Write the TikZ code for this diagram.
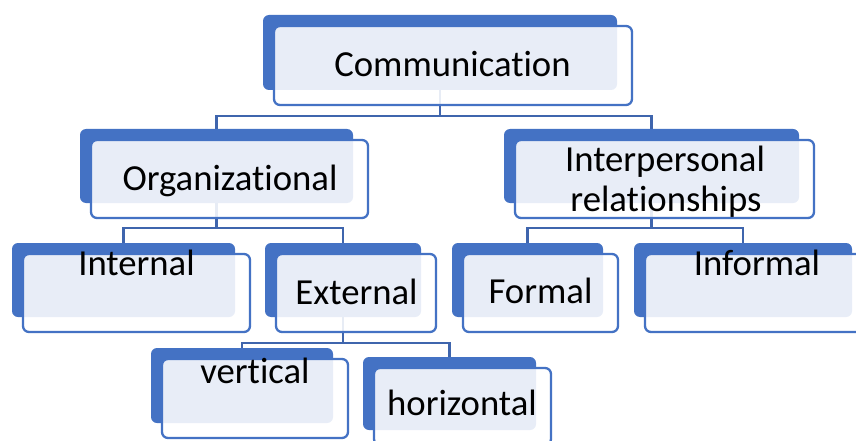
\documentclass[tikz,border=0pt]{standalone}
\usepackage{fontspec}
\setmainfont{Carlito}[Ligatures={NoCommon}]
\usetikzlibrary{backgrounds}
\definecolor{accent}{HTML}{4472C4}
\definecolor{linkc}{HTML}{3F65AD}
\tikzset{
  backbox/.style={fill=accent, draw=none, rounded corners=6pt, inner sep=0pt},
  frontbox/.style={draw=accent, line width=2.3pt, fill=white, fill opacity=0.88,
    rounded corners=6pt, inner sep=0pt},
  lbl/.style={inner sep=0pt, anchor=base, text=black,
    font=\fontsize{36.7}{40}\selectfont},
  link/.style={draw=linkc, line width=2.4pt}
}
% #1 name, #2/#3 centre of the solid tab, #4/#5 its size, #6/#7 size of the framed card
\newcommand\orgcard[7]{%
  \node[backbox, minimum width=#4, minimum height=#5] (#1B) at (#2,#3) {};
  \node[frontbox, minimum width=#6, minimum height=#7] (#1F)
    at ([shift={(13,13)}]#1B.center) {};
}
\begin{document}
\begin{tikzpicture}[x=1pt, y=-1pt]
  \clip (0,0) rectangle (856,441);

  % cards
  \orgcard{comm}{440}{52.5}{354}{75}{358}{79}
  \orgcard{org}{216.5}{166}{273}{74}{277}{78}
  \orgcard{inter}{651.5}{166}{295}{74}{299}{78}
  \orgcard{intl}{123.5}{280}{223}{74}{227}{78}
  \orgcard{extl}{343}{280}{156}{74}{160}{78}
  \orgcard{form}{527.5}{280}{151}{74}{155}{78}
  \orgcard{infm}{743}{280}{218}{74}{222}{78}
  \orgcard{vert}{242}{385.5}{182}{75}{186}{79}
  \orgcard{horz}{449.5}{393.5}{173}{73}{177}{77}

  % connectors, kept behind the cards
  \begin{pgfonlayer}{background}
    \fill[white] (0,0) rectangle (856,441);
    \draw[link] (commB.south) -- ++(0,25.7) -| (orgB.north);
    \draw[link] (commB.south) -- ++(0,25.7) -| (interB.north);
    \draw[link] (orgB.south) -- ++(0,25) -| (intlB.north);
    \draw[link] (orgB.south) -- ++(0,25) -| (extlB.north);
    \draw[link] (interB.south) -- ++(0,25) -| (formB.north);
    \draw[link] (interB.south) -- ++(0,25) -| (infmB.north);
    \draw[link] (extlB.south) -- ++(0,26) -| (vertB.north);
    \draw[link] (extlB.south) -- ++(0,26) -| (horzB.north);
  \end{pgfonlayer}

  % labels
  \node[lbl] (commT) at (452.5,77) {Communication};
  \node[lbl] (orgT) at (230,190) {Organizational};
  \node[lbl] (interT) at (665,171) {Interpersonal};
  \node[lbl] (interT2) at (666,211) {relationships};
  \node[lbl] (intlT) at (136.5,275) {Internal};
  \node[lbl] (extlT) at (356.5,304) {External};
  \node[lbl] (formT) at (540.5,303) {Formal};
  \node[lbl] (infmT) at (757,275) {Informal};
  \node[lbl] (vertT) at (255,383) {vertical};
  \node[lbl] (horzT) at (462,415) {horizontal};
\end{tikzpicture}
\end{document}
